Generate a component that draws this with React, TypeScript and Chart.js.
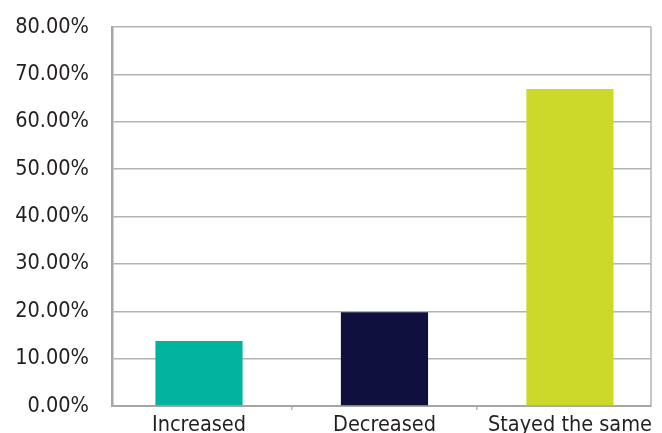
import React, { useEffect, useRef } from "react";
import { Chart, registerables } from "chart.js";

Chart.register(...registerables);

// Survey answers and their shares (percent)
const categories = ["Increased", "Decreased", "Stayed the same"];
const shares = [13.7, 19.8, 66.9];
const barColors = ["#00b39e", "#10103f", "#ccd92b"];
const yTicks = [0, 10, 20, 30, 40, 50, 60, 70, 80];

const FONT = "'DejaVu Sans Condensed', 'Liberation Sans', sans-serif";
const TEXT = "#231f20";
const GRID = "#b4b4b4";
const AXIS = "#a6a6a6";

// close the right edge of the plot frame
const frame = {
  id: "frame",
  afterDraw(chart: any) {
    const { ctx, chartArea } = chart;
    ctx.save();
    ctx.strokeStyle = GRID;
    ctx.lineWidth = 1.5;
    ctx.beginPath();
    ctx.moveTo(chartArea.right, chartArea.top);
    ctx.lineTo(chartArea.right, chartArea.bottom);
    ctx.stroke();
    ctx.restore();
  },
};

export default function App() {
  const ref = useRef<HTMLCanvasElement | null>(null);

  useEffect(() => {
    if (!ref.current) return;
    const chart = new Chart(ref.current, {
      type: "bar",
      data: {
        datasets: [
          {
            data: shares.map((y, i) => ({ x: i, y })),
            backgroundColor: barColors,
            borderWidth: 0,
            categoryPercentage: 1,
            barPercentage: 0.94,
          },
        ],
      },
      options: {
        animation: false,
        responsive: false,
        maintainAspectRatio: false,
        layout: { padding: { top: 27, right: 11, left: 0, bottom: 0 } },
        plugins: { legend: { display: false }, tooltip: { enabled: false } },
        scales: {
          x: {
            type: "linear",
            offset: false,
            min: -0.469,
            max: 2.437,
            afterBuildTicks: (scale: any) => {
              scale.ticks = [0, 0.5, 1, 1.5, 2].map((value) => ({ value }));
            },
            afterFit: (scale: any) => {
              scale.height = 27;
              scale.paddingLeft = 0;
              scale.paddingRight = 0;
            },
            grid: {
              offset: false,
              drawOnChartArea: false,
              drawTicks: true,
              tickLength: 4,
              lineWidth: 1.5,
              color: (ctx: any) =>
                ctx.tick && ctx.tick.value % 1 !== 0 ? GRID : "rgba(0,0,0,0)",
            },
            border: { display: true, color: AXIS, width: 2 },
            ticks: {
              autoSkip: false,
              maxRotation: 0,
              padding: 3,
              color: TEXT,
              font: { family: FONT, size: 21.5 },
              callback: (v: any) =>
                Number.isInteger(v) ? categories[v as number] : "",
            },
          },
          y: {
            min: 0,
            max: 80,
            afterBuildTicks: (scale: any) => {
              scale.ticks = yTicks.map((value) => ({ value }));
            },
            afterFit: (scale: any) => {
              scale.width = 112;
              scale.paddingTop = 0;
              scale.paddingBottom = 0;
            },
            grid: { color: GRID, lineWidth: 1.5, drawTicks: false },
            border: { display: true, color: AXIS, width: 2.5 },
            ticks: {
              padding: 23,
              color: TEXT,
              font: { family: FONT, size: 21.5 },
              callback: (v: any) => Number(v).toFixed(2) + "%",
            },
          },
        },
      },
      plugins: [frame],
    });
    return () => chart.destroy();
  }, []);

  return (
    <div style={{ position: "absolute", left: 0, top: 0, width: 662, height: 433, background: "#fff" }}>
      <canvas ref={ref} width={662} height={433} style={{ display: "block" }} />
    </div>
  );
}
